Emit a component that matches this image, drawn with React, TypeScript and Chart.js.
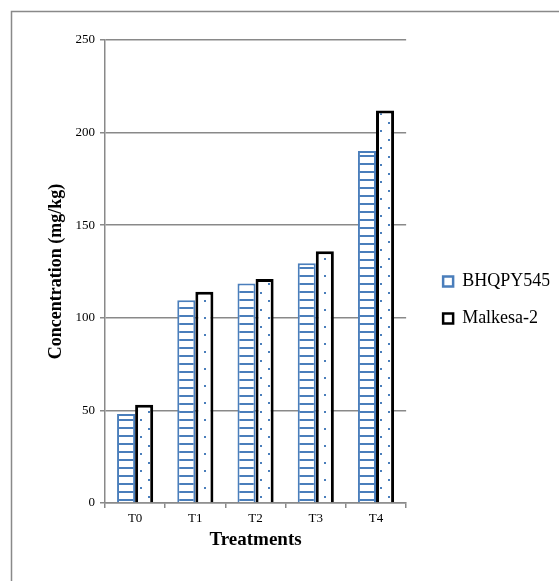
import React, { useEffect, useRef } from "react";
import { Chart, registerables } from "chart.js";

Chart.register(...registerables);

const categories = ["T0", "T1", "T2", "T3", "T4"];
const seriesNames = ["BHQPY545", "Malkesa-2"];
const bhqpy545 = [48, 109.5, 118.5, 129.5, 190];
const malkesa2 = [53, 114, 121, 136, 212];
const yTicks = [0, 50, 100, 150, 200, 250];

const BLUE = "#4a7ebb";
const GRAY = "#898989";
const FONT = "'Liberation Serif', 'Times New Roman', serif";

function stripePattern(): CanvasPattern | string {
  const c = document.createElement("canvas");
  c.width = 8;
  c.height = 8;
  const g = c.getContext("2d");
  if (!g) return "#fff";
  g.fillStyle = "#ffffff";
  g.fillRect(0, 0, 8, 8);
  g.fillStyle = BLUE;
  g.fillRect(0, 3, 8, 2);
  return g.createPattern(c, "repeat") || "#fff";
}

function dotPattern(): CanvasPattern | string {
  const c = document.createElement("canvas");
  c.width = 16;
  c.height = 17;
  const g = c.getContext("2d");
  if (!g) return "#fff";
  g.fillStyle = "#ffffff";
  g.fillRect(0, 0, 16, 17);
  g.fillStyle = BLUE;
  g.fillRect(4, 3, 2, 2);
  g.fillRect(12, 11, 2, 2);
  return g.createPattern(c, "repeat") || "#fff";
}

export default function App() {
  const ref = useRef<HTMLCanvasElement | null>(null);

  useEffect(() => {
    if (!ref.current) return;
    const frame = {
      id: "frame",
      beforeDraw(chart: any) {
        const ctx = chart.ctx;
        ctx.save();
        ctx.strokeStyle = GRAY;
        ctx.lineWidth = 1.5;
        ctx.strokeRect(11.5, 11.5, 800, 800);
        ctx.restore();
      },
    };
    const legendShift = {
      id: "legendShift",
      afterLayout(chart: any) {
        const lg = chart.legend;
        if (lg) {
          lg.left += 18;
          lg.right += 18;
        }
      },
    };
    const chart = new Chart(ref.current, {
      type: "bar",
      data: {
        labels: categories,
        datasets: [
          {
            label: seriesNames[0],
            data: bhqpy545,
            backgroundColor: stripePattern() as any,
            borderColor: BLUE,
            borderWidth: 2,
            categoryPercentage: 0.6,
            barPercentage: 1,
          },
          {
            label: seriesNames[1],
            data: malkesa2,
            backgroundColor: dotPattern() as any,
            borderColor: "#000000",
            borderWidth: 3,
            categoryPercentage: 0.6,
            barPercentage: 1,
          },
        ],
      },
      options: {
        animation: false,
        responsive: false,
        layout: { padding: { top: 40, left: 30, right: 27.5, bottom: 21 } },
        plugins: {
          tooltip: { enabled: false },
          legend: {
            position: "right",
            align: "center",
            labels: {
              boxWidth: 10,
              boxHeight: 10,
              padding: 19,
              color: "#000",
              font: { family: FONT, size: 18 },
              generateLabels: (ch: any) =>
                ch.data.datasets.map((ds: any, i: number) => ({
                  text: ds.label,
                  fillStyle: "#ffffff",
                  strokeStyle: i === 0 ? BLUE : "#000000",
                  lineWidth: 2.5,
                  datasetIndex: i,
                  hidden: false,
                  fontColor: "#000",
                })),
            },
          },
        },
        scales: {
          x: {
            grid: {
              display: true,
              drawOnChartArea: false,
              drawTicks: true,
              tickLength: 5,
              color: GRAY,
              lineWidth: 1.5,
              offset: true,
            },
            border: { display: true, color: GRAY, width: 1.5 },
            ticks: { color: "#000", font: { family: FONT, size: 13 }, padding: 3 },
            title: {
              display: true,
              text: "Treatments",
              color: "#000",
              font: { family: FONT, size: 19, weight: "bold" },
              padding: { top: 0, bottom: 9 },
            },
            afterFit(scale: any) {
              scale.height = 57;
            },
          },
          y: {
            min: 0,
            max: 250,
            afterBuildTicks(scale: any) {
              scale.ticks = yTicks.map((v) => ({ value: v }));
            },
            grid: { color: GRAY, lineWidth: 1.5, tickLength: 5, drawTicks: true },
            border: { display: true, color: GRAY, width: 1.5 },
            ticks: { color: "#000", font: { family: FONT, size: 13 }, padding: 5 },
            title: {
              display: true,
              text: "Concentration (mg/kg)",
              color: "#000",
              font: { family: FONT, size: 18, weight: "bold" },
              padding: { top: 16, bottom: 0 },
            },
            afterFit(scale: any) {
              scale.width = 75;
            },
          },
        },
      },
      plugins: [frame, legendShift],
    } as any);
    return () => chart.destroy();
  }, []);

  return (
    <div style={{ position: "absolute", left: 0, top: 0, width: 559, height: 581 }}>
      <canvas ref={ref} width={559} height={581} style={{ display: "block" }} />
    </div>
  );
}
